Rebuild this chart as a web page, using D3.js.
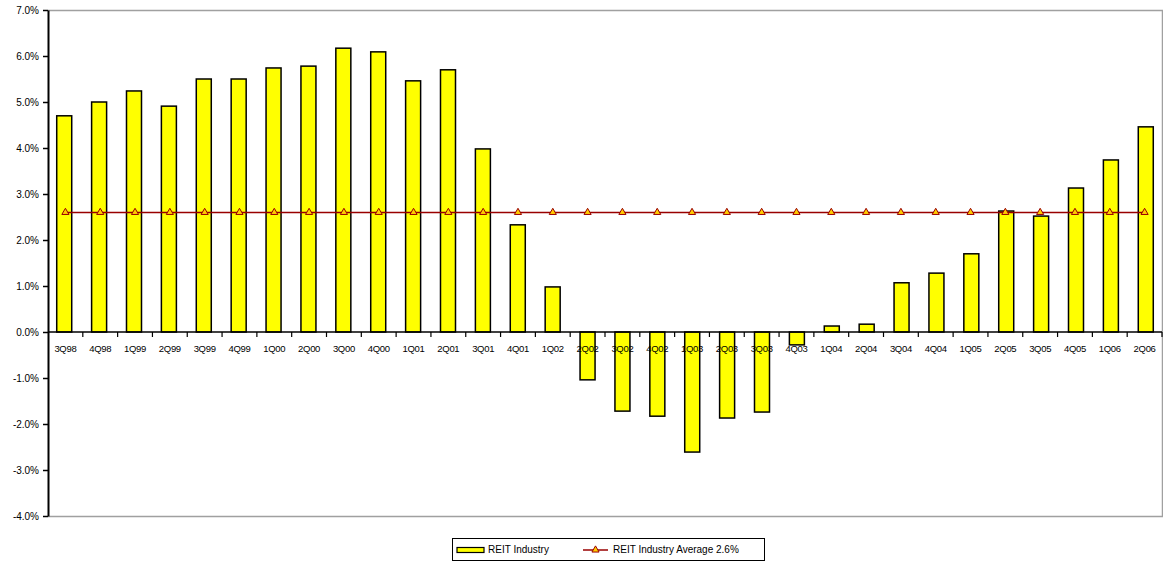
<!DOCTYPE html>
<html>
<head>
<meta charset="utf-8">
<script src="https://cdn.jsdelivr.net/npm/d3@7"></script>
<style>
  html, body { margin: 0; padding: 0; background: #fff; }
  svg { display: block; }
  text { font-family: Arial, "Liberation Sans", sans-serif; fill: #000; }
</style>
</head>
<body>
<svg id="chart" width="1163" height="563"></svg>
<script>
// Quarterly REIT industry returns (%)
const quarters = ["3Q98","4Q98","1Q99","2Q99","3Q99","4Q99","1Q00","2Q00","3Q00","4Q00",
  "1Q01","2Q01","3Q01","4Q01","1Q02","2Q02","3Q02","4Q02","1Q03","2Q03","3Q03","4Q03",
  "1Q04","2Q04","3Q04","4Q04","1Q05","2Q05","3Q05","4Q05","1Q06","2Q06"];
const reitValues = [4.70, 5.00, 5.24, 4.91, 5.50, 5.50, 5.74, 5.78, 6.17, 6.09,
  5.46, 5.70, 3.98, 2.33, 0.98, -1.04, -1.72, -1.83, -2.61, -1.87, -1.74, -0.28,
  0.13, 0.17, 1.07, 1.28, 1.70, 2.63, 2.52, 3.13, 3.74, 4.46];
const industryAverage = 2.6;
const yTicks = [7, 6, 5, 4, 3, 2, 1, 0, -1, -2, -3, -4];
const seriesNames = ["REIT Industry", "REIT Industry Average 2.6%"];

const svg = d3.select("#chart");
const plotLeft = 48, plotRight = 1162, plotTop = 10, plotBottom = 516;

const x = d3.scaleBand().domain(quarters).range([plotLeft, plotRight]).paddingInner(0.57).paddingOuter(0.25);
const xb = d3.scaleBand().domain(quarters).range([plotLeft, plotRight]);
const y = d3.scaleLinear().domain([-4, 7]).range([plotBottom, plotTop]);

// plot frame (top/right/bottom in grey)
svg.append("path")
  .attr("d", `M${plotLeft},${plotTop + 0.5}H${plotRight + 0.5}V${plotBottom + 0.5}H${plotLeft}`)
  .attr("fill", "none").attr("stroke", "#a0a0a0").attr("stroke-width", 1.5);

// bars
svg.append("g").selectAll("rect").data(quarters).join("rect")
  .attr("x", d => x(d))
  .attr("width", x.bandwidth())
  .attr("y", (d, i) => y(Math.max(0, reitValues[i])))
  .attr("height", (d, i) => Math.abs(y(reitValues[i]) - y(0)))
  .attr("fill", "#ffff00")
  .attr("stroke", "#000").attr("stroke-width", 1.5);

// y axis (plain hyphen for negatives)
const yAxis = d3.axisLeft(y).tickValues(yTicks).tickSize(5).tickSizeOuter(0)
  .tickFormat(d => d.toFixed(1) + "%");
const gy = svg.append("g").attr("transform", `translate(${plotLeft},0)`).call(yAxis);
gy.select(".domain").attr("stroke", "#000").attr("stroke-width", 2);
gy.selectAll(".tick line").attr("stroke", "#000").attr("stroke-width", 1.5);
gy.selectAll(".tick text").attr("font-size", 10).attr("x", -9);

// x axis at zero with ticks between categories
const gx = svg.append("g").attr("transform", `translate(0,${y(0)})`);
gx.append("line").attr("x1", plotLeft).attr("x2", plotRight).attr("stroke", "#000").attr("stroke-width", 1.5);
gx.selectAll("line.t").data(quarters).join("line")
  .attr("class", "t")
  .attr("x1", d => xb(d) + xb.bandwidth())
  .attr("x2", d => xb(d) + xb.bandwidth())
  .attr("y1", 0).attr("y2", 5)
  .attr("stroke", "#000").attr("stroke-width", 1.2);
gx.selectAll("text").data(quarters).join("text")
  .attr("x", d => xb(d) + xb.bandwidth() / 2)
  .attr("y", 20)
  .attr("text-anchor", "middle")
  .attr("font-size", 9.5)
  .attr("letter-spacing", "-0.3px")
  .text(d => d);

// average line with triangle markers
const avgY = y(industryAverage);
svg.append("line")
  .attr("x1", xb(quarters[0]) + xb.bandwidth() / 2)
  .attr("x2", xb(quarters[quarters.length - 1]) + xb.bandwidth() / 2)
  .attr("y1", avgY).attr("y2", avgY)
  .attr("stroke", "#990000").attr("stroke-width", 1.5);
const tri = d3.symbol().type(d3.symbolTriangle).size(22);
svg.append("g").selectAll("path").data(quarters).join("path")
  .attr("transform", d => `translate(${xb(d) + xb.bandwidth() / 2},${avgY})`)
  .attr("d", tri)
  .attr("fill", "#ffcc00")
  .attr("stroke", "#990000").attr("stroke-width", 1);

// legend
const lg = svg.append("g");
lg.append("rect").attr("x", 452.5).attr("y", 538.5).attr("width", 312).attr("height", 22)
  .attr("fill", "#fff").attr("stroke", "#000").attr("stroke-width", 1);
lg.append("rect").attr("x", 457).attr("y", 547.5).attr("width", 27).attr("height", 5)
  .attr("fill", "#ffff00").attr("stroke", "#000").attr("stroke-width", 1.2);
lg.append("text").attr("x", 488).attr("y", 553).attr("font-size", 10).text(seriesNames[0]);
lg.append("line").attr("x1", 583).attr("x2", 608).attr("y1", 550).attr("y2", 550)
  .attr("stroke", "#990000").attr("stroke-width", 1.5);
lg.append("path").attr("transform", "translate(595.5,550)").attr("d", tri)
  .attr("fill", "#ffcc00").attr("stroke", "#990000").attr("stroke-width", 1);
lg.append("text").attr("x", 613).attr("y", 553).attr("font-size", 10).text(seriesNames[1]);
</script>
</body>
</html>
